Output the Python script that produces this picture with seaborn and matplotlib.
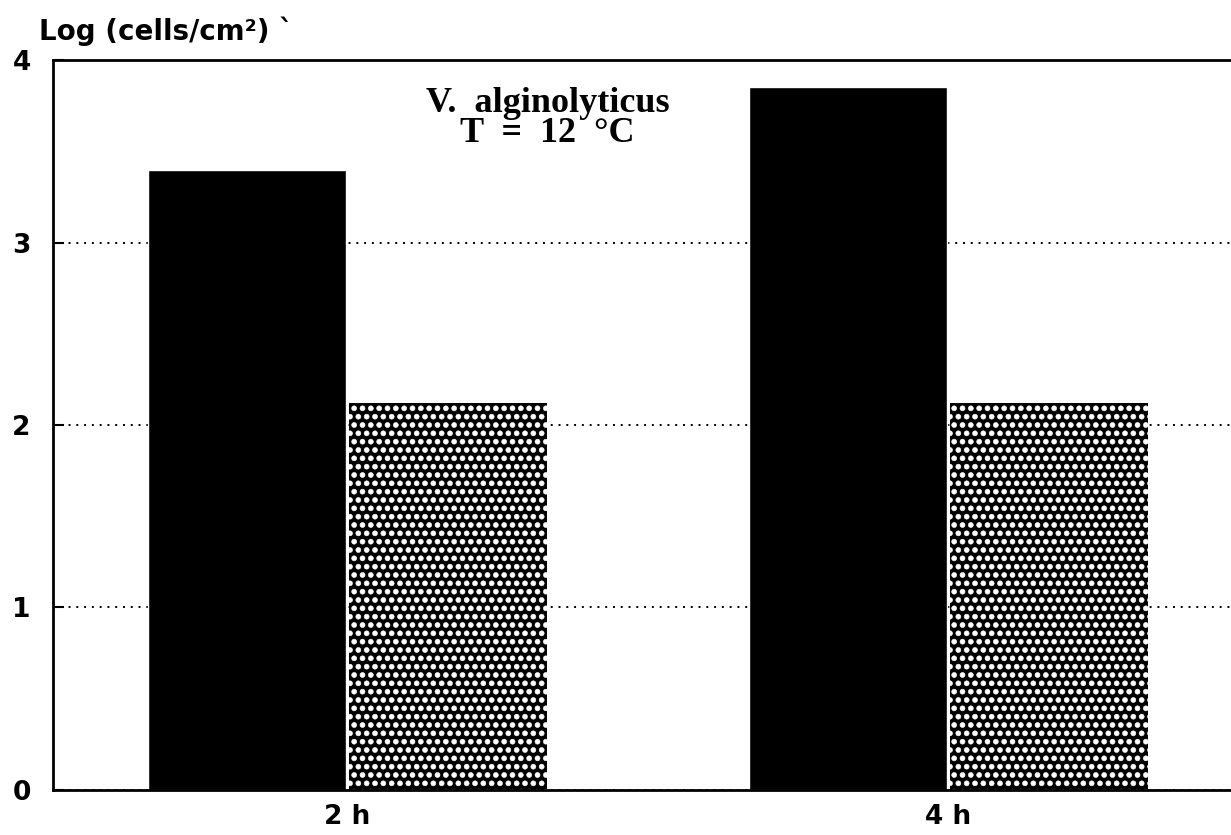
import matplotlib
matplotlib.use("Agg")
import matplotlib.pyplot as plt
from matplotlib import hatch as mhatch
import seaborn as sns
import pandas as pd

# Data
times = ["2 h", "4 h"]
series = ["Series A", "Series B"]
values_a = [3.40, 3.85]
values_b = [2.12, 2.12]
yticks = [0, 1, 2, 3, 4]

df = pd.DataFrame({
    "time": times * 2,
    "series": [series[0]] * len(times) + [series[1]] * len(times),
    "value": values_a + values_b,
})

# larger filled dots for the '.' hatch (white dots on black, like the print screen)
mhatch.SmallFilledCircles.size = 0.3

sns.set_theme(style="white")
plt.rcParams["font.family"] = ["DejaVu Sans"]
plt.rcParams["text.color"] = "black"
plt.rcParams["xtick.color"] = "black"
plt.rcParams["ytick.color"] = "black"
plt.rcParams["hatch.linewidth"] = 0.4

fig = plt.figure(figsize=(12.31, 8.35), dpi=100)
ax = fig.add_axes([0.043, 0.054, 0.957, 0.874])

sns.barplot(data=df, x="time", y="value", hue="series", order=times,
            hue_order=series, palette=["black", "black"], width=0.67,
            gap=0.015, legend=False, ax=ax, saturation=1)

for p in ax.containers[1]:
    p.set_facecolor("black")
    p.set_edgecolor("white")
    p.set_linewidth(0)
    p.set_hatch("..")

ax.set_xlim(-0.49, 1.47)
ax.set_ylim(0, 4)
ax.set_yticks(yticks)
ax.set_yticklabels([str(t) for t in yticks], fontsize=19, fontweight="bold")
ax.set_xticklabels(times, fontsize=19, fontweight="bold")
ax.tick_params(axis="x", length=0, pad=10)
ax.tick_params(axis="y", direction="in", length=8, width=1.5, pad=16, left=True)
ax.set_xlabel("")
ax.set_ylabel("")

ax.set_axisbelow(True)
ax.yaxis.grid(True, linestyle=(0, (1, 3)), color="black", linewidth=1.4)
ax.xaxis.grid(False)

for side in ["left", "bottom", "top"]:
    ax.spines[side].set_visible(True)
    ax.spines[side].set_color("black")
    ax.spines[side].set_linewidth(2)
ax.spines["right"].set_visible(False)

fig.text(0.032, 0.963, "Log (cells/cm²) `", fontsize=20, fontweight="bold",
         ha="left", va="center")

ax.text(0.42, 0.92, "V.  alginolyticus\nT  =  12  °C", transform=ax.transAxes,
        ha="center", va="center", fontsize=26, fontweight="bold",
        family=["Liberation Serif", "DejaVu Serif"], linespacing=0.88)

fig.savefig("out.png", dpi=100, facecolor="white")
